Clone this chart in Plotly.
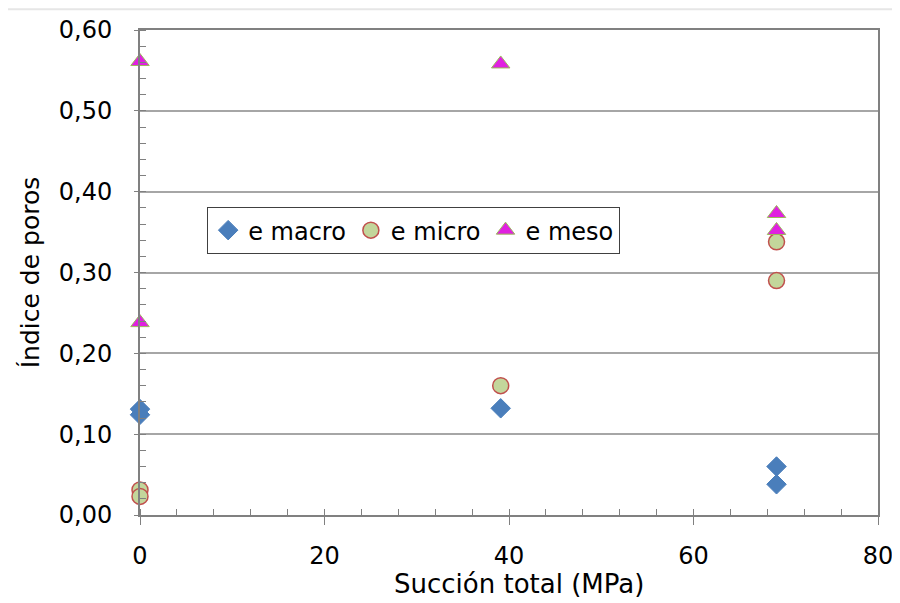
import plotly.graph_objects as go

# Data
macro_x = [0, 0, 39.1, 69.0, 69.0]
macro_y = [0.131, 0.124, 0.132, 0.060, 0.038]
micro_x = [0, 0, 39.1, 69.0, 69.0]
micro_y = [0.031, 0.023, 0.160, 0.338, 0.290]
meso_x = [0, 0, 39.1, 69.0, 69.0]
meso_y = [0.561, 0.238, 0.558, 0.373, 0.352]

fig = go.Figure()
fig.add_trace(go.Scatter(x=macro_x, y=macro_y, mode="markers", name="e macro",
                         marker=dict(symbol="diamond", size=15, color="#4a7ebb",
                                     line=dict(color="#4a7ebb", width=1)),
                         cliponaxis=False))
fig.add_trace(go.Scatter(x=micro_x, y=micro_y, mode="markers", name="e micro",
                         marker=dict(symbol="circle", size=16, color="#c3d69b",
                                     line=dict(color="#c0504d", width=1.5)),
                         cliponaxis=False))
fig.add_trace(go.Scatter(x=meso_x, y=meso_y, mode="markers", name="e meso",
                         marker=dict(symbol="triangle-up", size=16, color="#e020e0",
                                     line=dict(color="#9bbb59", width=1)),
                         cliponaxis=False))

font = "DejaVu Sans, Verdana, sans-serif"
fig.update_layout(
    width=892, height=595,
    margin=dict(l=132, r=22, t=22, b=88, autoexpand=False),
    paper_bgcolor="white", plot_bgcolor="white",
    separators=",.",
    font=dict(family=font, size=24, color="#000000"),
    showlegend=True,
    legend=dict(orientation="h", x=0.091, y=0.635, xanchor="left", yanchor="top",
                bordercolor="#404040", borderwidth=1, bgcolor="white",
                font=dict(family=font, size=24), itemwidth=30,
                tracegroupgap=0),
    xaxis=dict(range=[0, 80], dtick=20, tick0=0, showgrid=False, zeroline=False,
               showline=True, linecolor="#808080", linewidth=2, mirror=True,
               ticks="outside", ticklen=8, tickcolor="#808080", tickwidth=1,
               ticklabelstandoff=10, automargin=False,
               tickfont=dict(size=24, family=font),
               minor=dict(dtick=4, ticks="inside", ticklen=6, tickcolor="#808080", showgrid=False)),
    yaxis=dict(range=[0, 0.6], dtick=0.1, tick0=0, tickformat=".2f",
               showgrid=True, gridcolor="#a6a6a6", gridwidth=1.5, zeroline=False,
               showline=True, linecolor="#808080", linewidth=2, mirror=True,
               ticks="outside", ticklen=4, tickcolor="#808080",
               ticklabelstandoff=17, automargin=False,
               tickfont=dict(size=24, family=font),
               minor=dict(dtick=0.02, ticks="inside", ticklen=6, tickcolor="#808080", showgrid=False),
               title=dict(text="Índice de poros", standoff=12, font=dict(size=25, family=font))),
)
fig.add_annotation(text="Succión total (MPa)", xref="paper", yref="paper",
                   x=0.5136, y=-0.177, xanchor="center", yanchor="bottom",
                   showarrow=False, font=dict(size=26, family=font, color="#000000"))
fig.add_shape(type="line", xref="paper", yref="paper", x0=-0.18, x1=1.03, y0=1.043, y1=1.043,
              line=dict(color="#e6e6e6", width=2))

fig.write_html("out.html")
